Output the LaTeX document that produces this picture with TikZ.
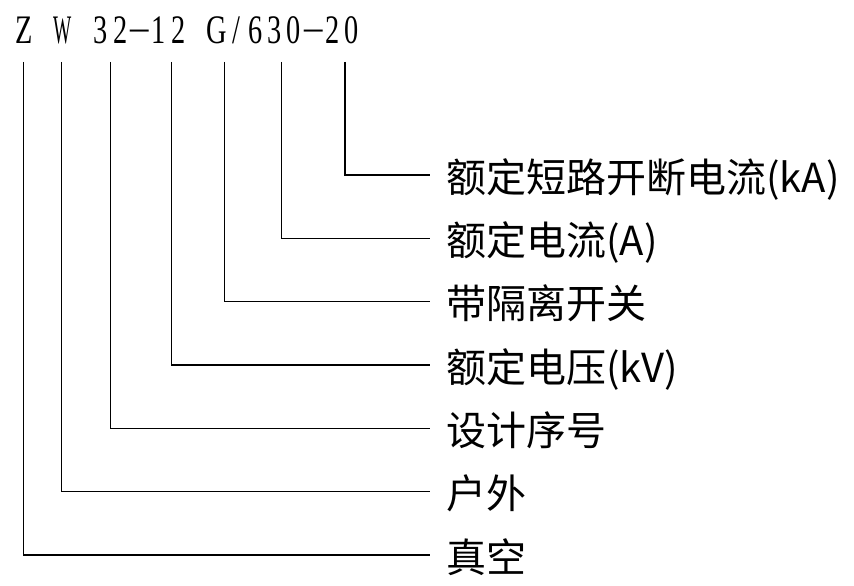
\documentclass[tikz,border=0pt]{standalone}
\usepackage{fontspec}
\newfontfamily\cjk{Noto Sans CJK SC}
\newfontfamily\topfont[FakeStretch=0.7]{Liberation Serif}
\newcommand\cc[1]{\makebox[19.3pt][c]{#1}}
\newcommand\dd{\cc{\raisebox{3pt}{\scalebox{1.3}[1]{–}}}}
\begin{document}
\begin{tikzpicture}[x=1pt,y=-1pt,
  leader/.style={line width=1.3pt,black},
  lab/.style={anchor=base west,inner sep=0pt,font=\cjk\fontsize{40}{48}\selectfont},
  code/.style={anchor=base west,inner sep=0pt,font=\topfont\fontsize{40.5}{46}\selectfont}]
\useasboundingbox (0,0) rectangle (854,586);
\node[code] (code) at (14,43.3) {\cc{Z}\cc{\ }\cc{\scalebox{0.68}[1]{W}}\cc{\ }\cc{3}\cc{2}\dd\cc{1}\cc{2}\cc{\ }\cc{G}\cc{/}\cc{6}\cc{3}\cc{0}\dd\cc{2}\cc{0}};
% tops of leaders
\coordinate (t1) at (345,62);
\coordinate (t2) at (281.7,62);
\coordinate (t3) at (224.3,62);
\coordinate (t4) at (171.3,62);
\coordinate (t5) at (110.3,62);
\coordinate (t6) at (61.7,62);
\coordinate (t7) at (23.3,62);
% ends of leaders
\coordinate (e1) at (430,175);
\coordinate (e2) at (430,238.3);
\coordinate (e3) at (430,301.7);
\coordinate (e4) at (430,365);
\coordinate (e5) at (430,428.3);
\coordinate (e6) at (430,491.7);
\coordinate (e7) at (430,555);
% labels
\node[lab] (l1) at (446,175+17) {额定短路开断电流(kA)};
\node[lab] (l2) at (446,238.3+17) {额定电流(A)};
\node[lab] (l3) at (446,301.7+17) {带隔离开关};
\node[lab] (l4) at (446,365+17) {额定电压(kV)};
\node[lab] (l5) at (446,428.3+17) {设计序号};
\node[lab] (l6) at (446,491.7+17) {户外};
\node[lab] (l7) at (446,555+17) {真空};
\foreach \i in {1,...,7}{\draw[leader] (t\i) |- (e\i);}
\end{tikzpicture}
\end{document}
